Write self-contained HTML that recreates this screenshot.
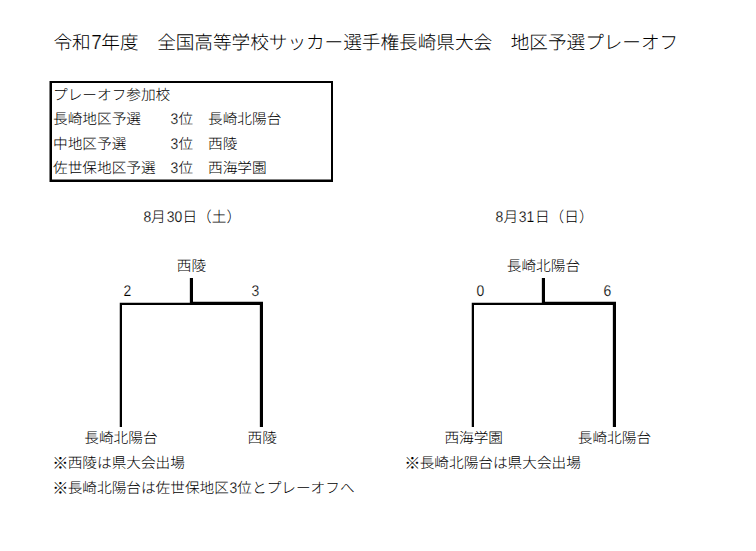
<!DOCTYPE html>
<html lang="ja">
<head>
<meta charset="utf-8">
<title>令和7年度 全国高等学校サッカー選手権長崎県大会 地区予選プレーオフ</title>
<style>
html,body{margin:0;padding:0;background:#fff;}
body{width:756px;height:551px;position:relative;overflow:hidden;
 font-family:"Liberation Sans","Noto Sans CJK JP",sans-serif;color:#000;font-weight:300;text-rendering:geometricPrecision;}
.t{position:absolute;white-space:pre;font-size:14.667px;letter-spacing:0;line-height:24px;height:24px;margin:0;}
.title{font-weight:300;font-size:18.667px;letter-spacing:-0.047px;line-height:30px;height:30px;}
.n{display:inline-block;line-height:0;font-size:15.5px;letter-spacing:-0.2px;transform:scaleX(0.9);transform-origin:50% 70%;-webkit-text-stroke:0.2px #fff;}
.title .n{font-size:20.4px;letter-spacing:-0.75px;transform:scaleX(0.93);-webkit-text-stroke:0.25px #fff;}
.k{display:inline-block;line-height:0;font-size:16.2px;letter-spacing:-1.533px;margin-left:-0.7px;margin-right:0.7px;position:relative;top:0.6px;}
.g{position:absolute;left:0;top:0;display:block;}
</style>
</head>
<body>
<h1 class="t title" style="left:53.5px;top:28px;">令和<span class="n">7</span>年度　全国高等学校サッカー選手権長崎県大会　地区予選プレーオフ</h1>

<svg class="g" width="756" height="551" viewBox="0 0 756 551" aria-hidden="true">
<g fill="#000">
<!-- participants box -->
<path fill-rule="evenodd" d="M49.5 81H333V182H49.5Z M52 83H331V179.5H52Z"/>
<!-- left bracket: thin = loser side, thick = winner side -->
<path d="M119.75 427V302.75H190.85V305H122V427Z"/>
<path d="M189.85 278H193V301.85H263V427H259.85V305H189.85Z"/>
<!-- right bracket -->
<path d="M471.75 427V302.75H542.85V305H474V427Z"/>
<path d="M541.85 278H545V301.85H616V427H612.85V305H541.85Z"/>
</g>
</svg>
<div class="t" style="left:53px;top:84px;">プレーオフ参加校</div>
<div class="t" style="left:53px;top:108px;">長崎地区予選</div>
<div class="t" style="left:170px;top:108px;"><span class="n">3</span>位</div>
<div class="t" style="left:208px;top:108px;">長崎北陽台</div>
<div class="t" style="left:53px;top:133px;">中地区予選</div>
<div class="t" style="left:170px;top:133px;"><span class="n">3</span>位</div>
<div class="t" style="left:208px;top:133px;">西陵</div>
<div class="t" style="left:53px;top:157px;">佐世保地区予選</div>
<div class="t" style="left:170px;top:157px;"><span class="n">3</span>位</div>
<div class="t" style="left:208px;top:157px;">西海学園</div>

<div class="t" style="left:142.5px;top:206px;"><span class="n">8</span>月<span class="n">30</span>日（土）</div>
<div class="t" style="left:495px;top:206px;"><span class="n">8</span>月<span class="n">31</span>日（日）</div>

<div class="t" style="left:176.8px;top:255px;">西陵</div>
<div class="t" style="left:506.8px;top:255px;">長崎北陽台</div>

<div class="t" style="left:123px;top:280px;"><span class="n">2</span></div>
<div class="t" style="left:251px;top:280px;"><span class="n">3</span></div>
<div class="t" style="left:475.5px;top:280px;"><span class="n">0</span></div>
<div class="t" style="left:603px;top:280px;"><span class="n">6</span></div>


<div class="t" style="left:84.3px;top:427px;">長崎北陽台</div>
<div class="t" style="left:247.6px;top:427px;">西陵</div>
<div class="t" style="left:444.4px;top:427px;">西海学園</div>
<div class="t" style="left:577.8px;top:427px;">長崎北陽台</div>

<div class="t" style="left:53px;top:452px;"><span class="k">※</span>西陵は県大会出場</div>
<div class="t" style="left:53px;top:477px;"><span class="k">※</span>長崎北陽台は佐世保地区<span class="n">3</span>位とプレーオフへ</div>
<div class="t" style="left:405px;top:452px;"><span class="k">※</span>長崎北陽台は県大会出場</div>
</body>
</html>
